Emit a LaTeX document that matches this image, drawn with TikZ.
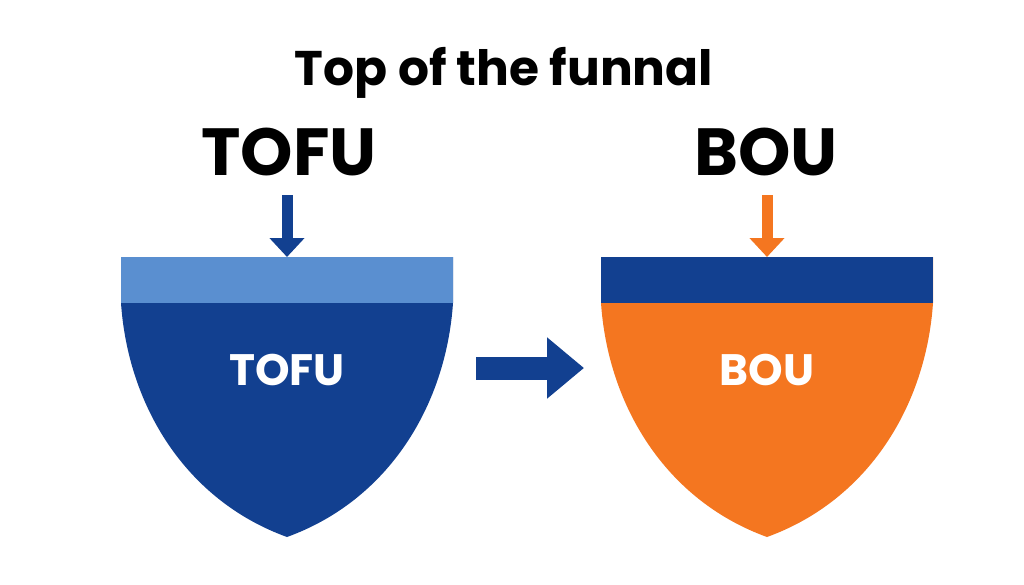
\documentclass[tikz,border=0pt]{standalone}
\usepackage{fontspec}
\setmainfont{Poppins}
\usepackage{xcolor}
\usetikzlibrary{arrows.meta,positioning}

\definecolor{tofublue}{RGB}{18,64,144}
\definecolor{bandblue}{RGB}{90,143,208}
\definecolor{bouorange}{RGB}{244,118,32}

\begin{document}
\begin{tikzpicture}[x=0.75pt,y=-0.75pt,
    titletext/.style={font=\bfseries\fontsize{36.5}{42}\selectfont, anchor=base},
    stagetext/.style={font=\bfseries\fontsize{50}{56}\selectfont, anchor=base},
    shieldtext/.style={font=\bfseries\fontsize{33}{38}\selectfont, text=white},
    droparrow/.style={line width=8.25pt, -{Triangle[width=25.5pt,length=14.25pt]}},
    movearrow/.style={line width=17.25pt, tofublue, -{Triangle[width=44.25pt,length=27.75pt]}}]
        % page
        \fill[white] (0,0) rectangle (1024,585);
        \node[titletext] (title) at (504,85) {Top of the funnal};
        % stage names above the shields
        \node[stagetext] (topTOFU) at (289,175) {TOFU};
        \node[stagetext] (topBOU) at (766,175) {BOU};
        % shields: top band, then pointed body
        \foreach \cx/\band/\body/\name in {287/bandblue/tofublue/TOFU, 767/tofublue/bouorange/BOU} {
            \fill[\body] (\cx-166,257) -- (\cx+166,257) -- (\cx+166,303)
                .. controls (\cx+159,405) and (\cx+102,500) .. (\cx,537)
                .. controls (\cx-102,500) and (\cx-159,405) .. (\cx-166,303) -- cycle;
            \fill[\band] (\cx-166,257) rectangle (\cx+166,303);
            \coordinate (neck\name) at (\cx,257);
            \node[shieldtext] (in\name) at (\cx,370) {\name};
        }
        % arrows
        \coordinate (dropTOFU) at (287,195);
        \coordinate (dropBOU) at (767,195);
        \draw[droparrow, tofublue] (dropTOFU) -- (neckTOFU);
        \draw[droparrow, bouorange] (dropBOU) -- (neckBOU);
        \coordinate (moveStart) at (476,368);
        \coordinate (moveEnd) at (584,368);
        \draw[movearrow] (moveStart) -- (moveEnd);
    \end{tikzpicture}
\end{document}
